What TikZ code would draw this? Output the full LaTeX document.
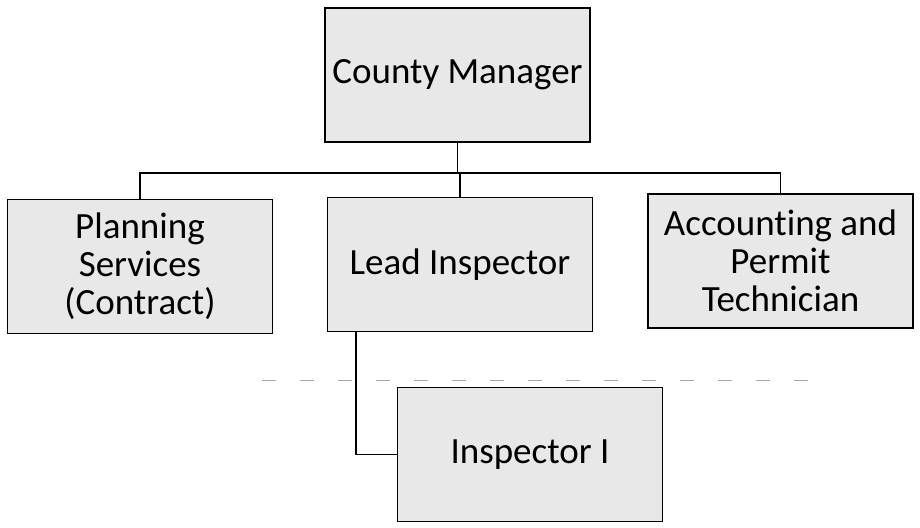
\documentclass[tikz,border=0pt]{standalone}
\usepackage{fontspec}
\setmainfont{Carlito}[Ligatures={NoCommon}]
\usetikzlibrary{positioning}
\tikzset{post/.style = {draw, line width=1.8pt, fill=gray!18,
                        minimum width=265pt, minimum height=134pt,
                        inner sep=1pt, align=center,
                        font=\fontsize{37}{38}\selectfont}}
\tikzset{link/.style = {line width=1.8pt}}
\begin{document}
\begin{tikzpicture}[x=1pt, y=1pt]
    \useasboundingbox (0, 0) rectangle (920, -527);

    \node [post] (cm) at (457.5, -75) {County Manager};
    \node [post] (plan) at (140, -266.5) {Planning\\Services\\(Contract)};
    \node [post] (lead) at (460, -264.5) {Lead Inspector};
    \node [post] (acct) at (780.5, -261) {Accounting and\\Permit\\Technician};
    \node [post] (insp) at (530, -454.5) {Inspector I};

    \coordinate (bus) at (457.5, -173);

    \draw [link] (cm.south) -- (cm.south |- bus);
    \draw [link] (plan.north) -- (plan.north |- bus) -- (acct.north |- bus) -- (acct.north);
    \draw [link] (lead.north) -- (lead.north |- bus);
    \draw [link] ([xshift=29pt]lead.south west) |- (insp.west);

    \draw [gray!70, line width=0.8pt, dash pattern=on 14pt off 24pt] (262, -380) -- (815, -380);
\end{tikzpicture}
\end{document}
